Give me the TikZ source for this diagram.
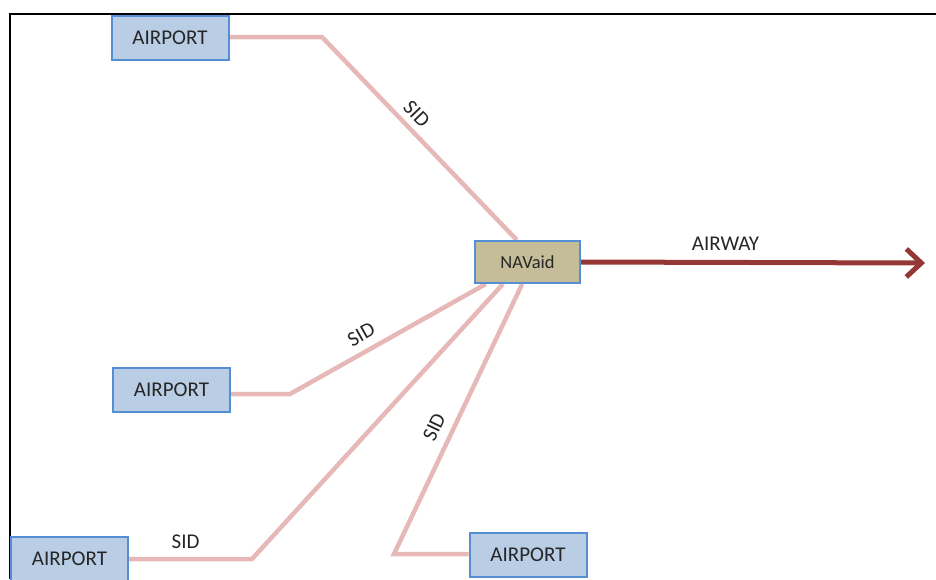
\documentclass[tikz,border=0pt]{standalone}
\usepackage{fontspec}
\setmainfont{Carlito}
\usetikzlibrary{arrows.meta,calc,backgrounds}
\definecolor{apfill}{HTML}{B9CDE5}
\definecolor{navfill}{HTML}{C4BD97}
\definecolor{bord}{HTML}{558ED5}
\definecolor{sidcol}{HTML}{E6B9B8}
\definecolor{awcol}{HTML}{953735}
\definecolor{txt}{HTML}{262626}
\tikzset{
  airport/.style={rectangle, fill=apfill, draw=bord, line width=2pt,
    minimum width=117pt, minimum height=44pt, inner sep=0pt, text=txt,
    font=\fontsize{21}{25}\selectfont},
  navaid/.style={rectangle, fill=navfill, draw=bord, line width=2pt,
    minimum width=105pt, minimum height=42pt, inner sep=0pt, text=txt,
    font=\fontsize{18.5}{22}\selectfont},
  sidline/.style={draw=sidcol, line width=4.5pt, line join=miter},
  airwayline/.style={draw=awcol, line width=5pt,
    -{Straight Barb[length=15pt, width=28pt, line width=5pt]}},
  lab/.style={text=txt, font=\fontsize{21}{25}\selectfont, inner sep=1pt},
  frame/.style={draw=black, line width=2pt}
}
\begin{document}
\begin{tikzpicture}[x=1pt,y=-1pt]
\useasboundingbox (0,0) rectangle (936,579);
\draw[frame] (936,13.8) -- (10.2,13.8) -- (10.2,579);

\node[airport] (ap1) at (170,37.5) {AIRPORT};
\node[airport] (ap2) at (171.5,390) {AIRPORT};
\node[airport] (ap3) at (69.5,558.5) {AIRPORT};
\node[airport] (ap4) at (528,555) {AIRPORT};
\node[navaid] (nav) at (527.5,262) {NAVaid};

\coordinate (b1) at (322,37);
\coordinate (b2) at (290,394);
\coordinate (b3) at (252,559);
\coordinate (b4) at (394,554);
\coordinate (awend) at (925,263);

\begin{scope}[on background layer]
\coordinate (n1) at ($(nav.north west)!0.4!(nav.north east)$);
\coordinate (n2) at ($(nav.south west)!0.11!(nav.south east)$);
\coordinate (n3) at ($(nav.south west)!0.27!(nav.south east)$);
\coordinate (n4) at ($(nav.south west)!0.45!(nav.south east)$);
\draw[sidline] (ap1.east |- b1) -- (b1) -- node[lab, sloped, pos=0.43, above=5pt] {SID} (n1);
\draw[sidline] (ap2.east |- b2) -- (b2) -- node[lab, sloped, pos=0.406, above=7pt] {SID} (n2);
\draw[sidline] (ap3.east |- b3) -- node[lab, pos=0.46, above=7pt] {SID} (b3) -- (n3);
\draw[sidline] (ap4.west |- b4) -- (b4) -- node[lab, sloped, pos=0.441, above=8pt] {SID} (n4);
\end{scope}

\draw[airwayline] (nav.east) -- node[lab, pos=0.42, above=8pt] {AIRWAY} (awend);
\end{tikzpicture}
\end{document}
